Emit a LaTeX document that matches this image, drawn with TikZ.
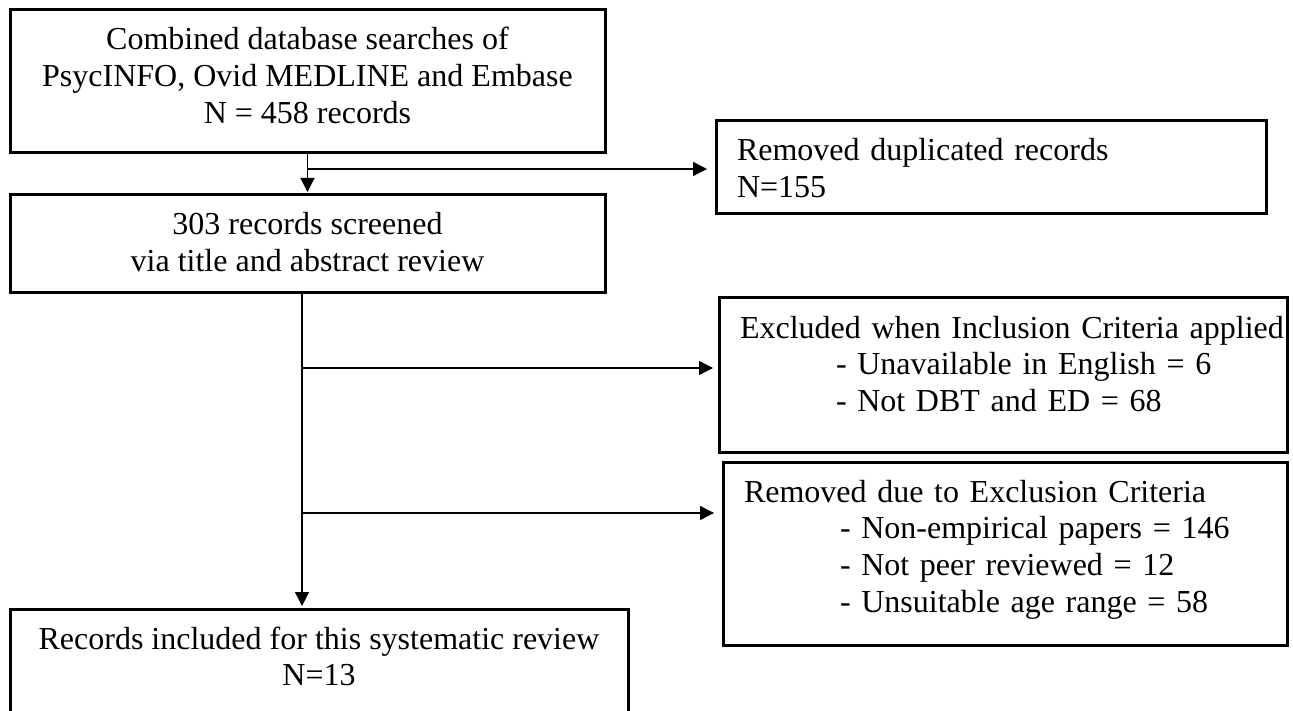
\documentclass[tikz,border=0pt]{standalone}
\usepackage{fontspec}
\setmainfont{Liberation Serif}
\usetikzlibrary{positioning, arrows.meta}

% struts: gap above the first baseline, depth below the last one
\newcommand{\gaptop}{\rule{0pt}{40pt}}
\newcommand{\gapbottom}[1]{\rule[-#1]{0pt}{#1}}

\begin{document}
\begin{tikzpicture}[x=1pt, y=-1pt,
  box/.style={draw, line width=3pt, inner sep=0pt, outer sep=0pt, anchor=north west,
    font=\fontsize{32}{36.7}\selectfont},
  mid/.style={box, align=center},
  side/.style={box, align=left},
  link/.style={line width=1.3pt, -{Triangle[length=14pt, width=14pt]}}]
\useasboundingbox (0,0) rectangle (1293,711);

% Left column
\node[mid, minimum width=595pt] (search) at (10,10)
  {\gaptop Combined database searches of\\PsycINFO, Ovid MEDLINE and Embase\\N = 458 records\gapbottom{29.6pt}};
\node[mid, minimum width=595pt] (screen) at (10,195)
  {\gaptop 303 records screened\\via title and abstract review\gapbottom{21.3pt}};
\node[mid, minimum width=618pt] (final) at (10,609)
  {\gaptop Records included for this systematic review\\N=13\gapbottom{27.3pt}};

% Right column (lines indented by hand)
\node[side, text width=550pt] (dup) at (716,121)
  {\gaptop\hspace*{21pt}Removed duplicated records\\
   \hspace*{21pt}N=155\gapbottom{16.3pt}};
\node[side, text width=568pt] (incl) at (719,298)
  {\gaptop\hspace*{21pt}Excluded when Inclusion Criteria applied\\
   \hspace*{117pt}- Unavailable in English = 6\\
   \hspace*{117pt}- Not DBT and ED = 68\gapbottom{40.6pt}};
\node[side, text width=564pt] (excl) at (723,462)
  {\gaptop\hspace*{21pt}Removed due to Exclusion Criteria\\
   \hspace*{117pt}- Non-empirical papers = 146\\
   \hspace*{117pt}- Not peer reviewed = 12\\
   \hspace*{117pt}- Unsuitable age range = 58\gapbottom{32.9pt}};

% Branch points on the two trunks
\coordinate (j1) at (search.south |- 0,169);
\coordinate (t2) at (302,293);
\coordinate (j2) at (302,368);
\coordinate (j3) at (302,513);

% Connectors
\draw[link, shorten >=3pt] (search.south) -- (screen.north);
\draw[link, shorten >=9pt] (j1) -- (j1 -| dup.west);
\draw[link, shorten >=3pt] (t2) -- (t2 |- final.north);
\draw[link, shorten >=6pt] (j2) -- (j2 -| incl.west);
\draw[link, shorten >=9pt] (j3) -- (j3 -| excl.west);
\end{tikzpicture}
\end{document}
